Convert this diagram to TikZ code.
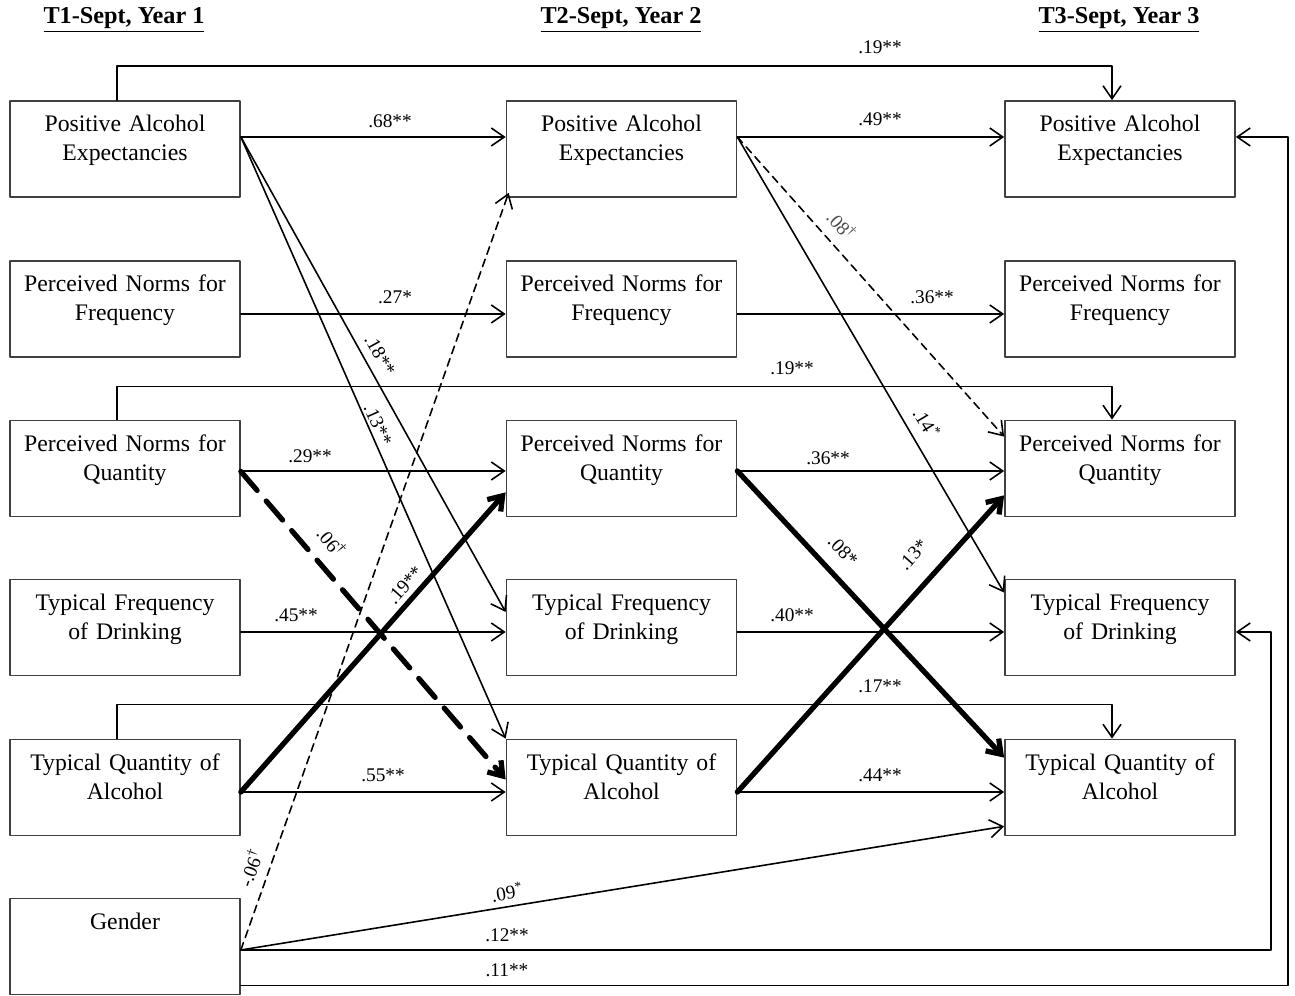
\documentclass[tikz,border=0pt]{standalone}
\usepackage{fontspec}
\setmainfont{Liberation Serif}
\usetikzlibrary{arrows.meta,calc}

\begin{document}
\begin{tikzpicture}[line cap=round,line join=round,x=0.02cm,y=0.02cm,
		>={Straight Barb[length=2.6mm,width=3.6mm]},
		varbox/.style={draw=black!75,line width=1pt,minimum width=4.6cm,minimum height=1.92cm,
			text width=4.4cm,align=center,inner xsep=0.1cm,inner ysep=0pt,
			text height=0.62cm,text depth=1.3cm,font=\fontsize{13.5}{16.4}\selectfont},
		wave/.style={font=\bfseries\fontsize{13.8}{16}\selectfont},
		coef/.style={font=\fontsize{11}{13}\selectfont,inner sep=1pt},
		effect/.style={line width=0.9pt,->},
		weak/.style={dash pattern=on 4.5pt off 3pt},
		strong/.style={line width=3pt},
		strongdash/.style={line width=3pt,dash pattern=on 0.5cm off 0.28cm}]
		\useasboundingbox (0,0) rectangle (1295,996);
		% waves
		\node[wave] (h1) at (124,976) {\underline{T1-Sept, Year 1}};
		\node[wave] (h2) at (621,976) {\underline{T2-Sept, Year 2}};
		\node[wave] (h3) at (1119,976) {\underline{T3-Sept, Year 3}};
		\foreach \t/\x in {1/125,2/621.5,3/1120} {
			\node[varbox] (pae\t) at (\x,847) {Positive Alcohol\\Expectancies};
			\node[varbox] (pnf\t) at (\x,687) {Perceived Norms for\\Frequency};
			\node[varbox] (pnq\t) at (\x,527.5) {Perceived Norms for\\Quantity};
			\node[varbox] (tfd\t) at (\x,368.5) {Typical Frequency\\of Drinking};
			\node[varbox] (tqa\t) at (\x,208.5) {Typical Quantity of\\Alcohol};
		}
		\node[varbox] (gen) at (125,49.5) {Gender};
		% stability paths
		\foreach \a/\b in {1/2,2/3} {
			\draw[effect] ($(pae\a.east)+(0,12)$) -- ($(pae\b.west)+(0,12)$);
			\draw[effect] ($(pnf\a.east)+(0,-5)$) -- ($(pnf\b.west)+(0,-5)$);
			\draw[effect] ($(pnq\a.east)+(0,-2.5)$) -- ($(pnq\b.west)+(0,-2.5)$);
			\draw[effect] ($(tfd\a.east)+(0,-4.5)$) -- ($(tfd\b.west)+(0,-4.5)$);
			\draw[effect] ($(tqa\a.east)+(0,-4.5)$) -- ($(tqa\b.west)+(0,-4.5)$);
		}
		\draw[effect] ($(pae1.north)+(-8,0)$) -- ++(0,34) -| ($(pae3.north)+(-8,0)$);
		\draw[effect] ($(pnq1.north)+(-8,0)$) -- ++(0,33) -| ($(pnq3.north)+(-8,0)$);
		\draw[effect] ($(tqa1.north)+(-8,0)$) -- ++(0,34) -| ($(tqa3.north)+(-8,0)$);
		% cross-lagged paths
		\draw[effect] ($(pae1.east)+(0,12)$) -- ($(tfd2.west)+(0,15.5)$);
		\draw[effect] ($(pae1.east)+(0,12)$) -- (tqa2.north west);
		\draw[effect] ($(pae2.east)+(0,12)$) -- ($(tfd3.north west)+(0,-14)$);
		\draw[effect,weak] ($(pae2.east)+(0,12)$) -- ($(pnq3.north west)+(0,-17)$);
		\draw[effect,strongdash] ($(pnq1.east)+(0,-3)$) -- ($(tqa2.west)+(0,8)$);
		\draw[effect,strong] ($(tqa1.east)+(0,-4.5)$) -- ($(pnq2.south west)+(0,25)$);
		\draw[effect,strong] ($(pnq2.east)+(0,-2.5)$) -- ($(tqa3.north west)+(0,-19)$);
		\draw[effect,strong] ($(tqa2.east)+(0,-4.5)$) -- ($(pnq3.south west)+(0,22)$);
		% gender
		\draw[effect,weak] ($(gen.east)+(0,-3.5)$) -- ($(pae2.south west)+(3,5)$);
		\draw[effect] ($(gen.east)+(0,-3.5)$) -- ($(tqa3.south west)+(0,10)$);
		\draw[effect] ($(gen.east)+(0,-3.5)$) -| ($(tfd3.east)+(35,-4.5)$) -- ($(tfd3.east)+(0,-4.5)$);
		\draw[effect] ($(gen.south east)+(0,10)$) -| ($(pae3.east)+(52,12)$) -- ($(pae3.east)+(0,12)$);
		% coefficients
		\node[coef] (c68) at (390,875) {.68**};
		\node[coef] (c49) at (880,877) {.49**};
		\node[coef] (c19a) at (880,949) {.19**};
		\node[coef] (c27) at (395,699) {.27*};
		\node[coef] (c36a) at (932,699) {.36**};
		\node[coef] (c19b) at (792,628) {.19**};
		\node[coef] (c29) at (310,540) {.29**};
		\node[coef] (c36b) at (828,538) {.36**};
		\node[coef] (c45) at (296,381) {.45**};
		\node[coef] (c40) at (792,381) {.40**};
		\node[coef] (c17) at (880,310) {.17**};
		\node[coef] (c55) at (383,221) {.55**};
		\node[coef] (c44) at (880,221) {.44**};
		\node[coef,rotate=-61] (c18) at (380,641) {.18**};
		\node[coef,rotate=-66] (c13a) at (378,571) {.13**};
		\node[coef,rotate=-50] (c06a) at (332,454) {.06\textsuperscript{\textdagger}};
		\node[coef,rotate=48] (c19c) at (405,411) {.19**};
		\node[coef,rotate=-48,text=black!70] (c08a) at (842,771) {.08\textsuperscript{\textdagger}};
		\node[coef,rotate=-59] (c14) at (927,573) {.14\textsuperscript{*}};
		\node[coef,rotate=-47] (c08b) at (843,445) {.08*};
		\node[coef,rotate=48] (c13b) at (913,441) {.13*};
		\node[coef,rotate=70] (c06b) at (250,128) {-.06\textsuperscript{\textdagger}};
		\node[coef,rotate=9] (c09) at (507,104) {.09\textsuperscript{*}};
		\node[coef] (c12) at (507,61) {.12**};
		\node[coef] (c11) at (507,26) {.11**};
	\end{tikzpicture}
\end{document}
